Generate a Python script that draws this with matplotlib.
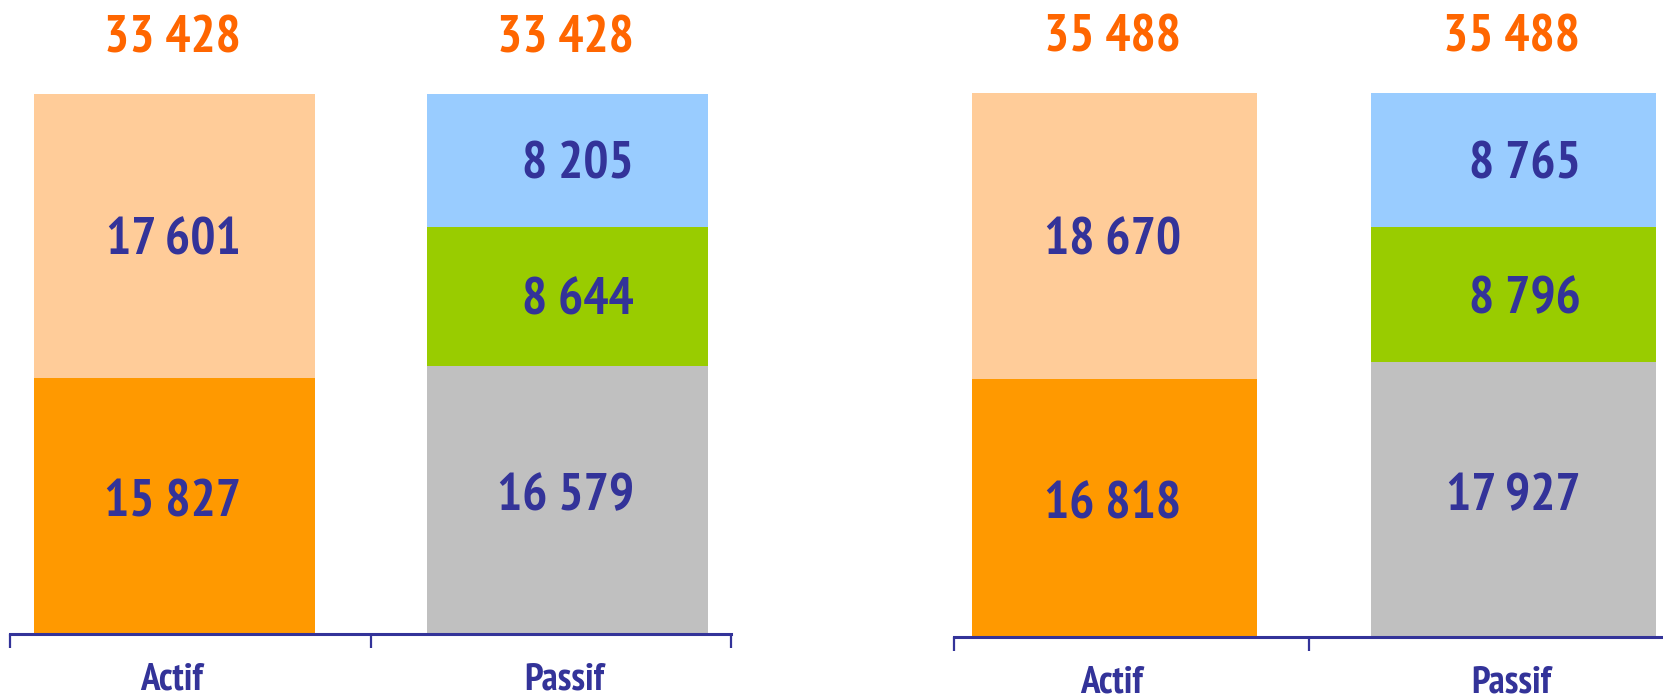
import matplotlib
matplotlib.use("Agg")
import matplotlib.pyplot as plt
from matplotlib import font_manager
from matplotlib.font_manager import FontProperties

categories = ["Actif", "Passif"]

# Panel 1
p1_actif_bottom = 15827
p1_actif_top = 17601
p1_passif_bottom = 16579
p1_passif_mid = 8644
p1_passif_top = 8205

# Panel 2
p2_actif_bottom = 16818
p2_actif_top = 18670
p2_passif_bottom = 17927
p2_passif_mid = 8796
p2_passif_top = 8765

C_ORANGE = "#FF9900"
C_LORANGE = "#FFCC99"
C_GRAY = "#C0C0C0"
C_GREEN = "#99CC00"
C_BLUE = "#99CCFF"
C_TEXT = "#333399"
C_TOTAL = "#FF6600"

# pick a narrow bold font: Liberation Sans Narrow first, then any "narrow" bold face
liberation, other_narrow = [], []
for f in font_manager.fontManager.ttflist:
    fn = f.fname.lower().replace(" ", "")
    nm = f.name.lower()
    if "italic" in fn or "oblique" in fn or "bold" not in fn:
        continue
    if "liberationsansnarrow" in fn:
        liberation.append(f.fname)
    elif "narrow" in fn or "narrow" in nm:
        other_narrow.append(f.fname)
cands = liberation + sorted(other_narrow)
if cands:
    narrow = FontProperties(fname=cands[0])
    NUM_FS, CAT_FS = 38, 28
else:
    narrow = FontProperties(family="Liberation Sans", weight="bold")
    NUM_FS, CAT_FS = 33, 24

def fmt(v):
    return f"{v:,}".replace(",", " ")

fig = plt.figure(figsize=(16.63, 6.97), dpi=100)

panels = [
    dict(rect=[10/1663, 63/697, 721/1663, 540/697],
         actif=[p1_actif_bottom, p1_actif_top],
         passif=[p1_passif_bottom, p1_passif_mid, p1_passif_top],
         pos=[0.456, 1.546], width=0.78, ticks=[0, 1, 2]),
    dict(rect=[954/1663, 60/697, 709/1663, 544/697],
         actif=[p2_actif_bottom, p2_actif_top],
         passif=[p2_passif_bottom, p2_passif_mid, p2_passif_top],
         pos=[0.453, 1.579], width=0.805, ticks=[0, 1]),
]

def fp(size):
    p = narrow.copy()
    p.set_size(size)
    return p

for p in panels:
    ax = fig.add_axes(p["rect"])
    total = sum(p["actif"])
    ax.set_xlim(0, 2)
    ax.set_ylim(0, total)
    for s in ["top", "left", "right"]:
        ax.spines[s].set_visible(False)
    ax.spines["bottom"].set_color(C_TEXT)
    ax.spines["bottom"].set_linewidth(2.2)
    ax.set_yticks([])
    ax.set_xticks(p["ticks"])
    ax.set_xticklabels([])
    ax.tick_params(axis="x", direction="out", length=10, width=1.6, color=C_TEXT)
    ax.patch.set_alpha(0)

    stacks = [(p["actif"], [C_ORANGE, C_LORANGE]),
              (p["passif"], [C_GRAY, C_GREEN, C_BLUE])]
    for i, (vals, cols) in enumerate(stacks):
        x = p["pos"][i]
        bottom = 0
        for k, (v, c) in enumerate(zip(vals, cols)):
            ax.bar(x, v, bottom=bottom, width=p["width"], color=c,
                   edgecolor="none", zorder=1, clip_on=False)
            dy = 2 if k == 0 else -4
            ax.annotate(fmt(v), xy=(x, bottom + v / 2), xytext=(48, dy),
                        textcoords="offset points", ha="right", va="center",
                        fontproperties=fp(NUM_FS), color=C_TEXT,
                        annotation_clip=False)
            bottom += v
        ax.annotate(fmt(sum(vals)), xy=(x, bottom), xytext=(48, 39),
                    textcoords="offset points", ha="right", va="center",
                    fontproperties=fp(NUM_FS), color=C_TOTAL,
                    annotation_clip=False)
        ax.annotate(categories[i], xy=(x, 0), xytext=(-2, -33),
                    textcoords="offset points", ha="center", va="center",
                    fontproperties=fp(CAT_FS), color=C_TEXT,
                    annotation_clip=False)

fig.savefig("out.png", dpi=100)
